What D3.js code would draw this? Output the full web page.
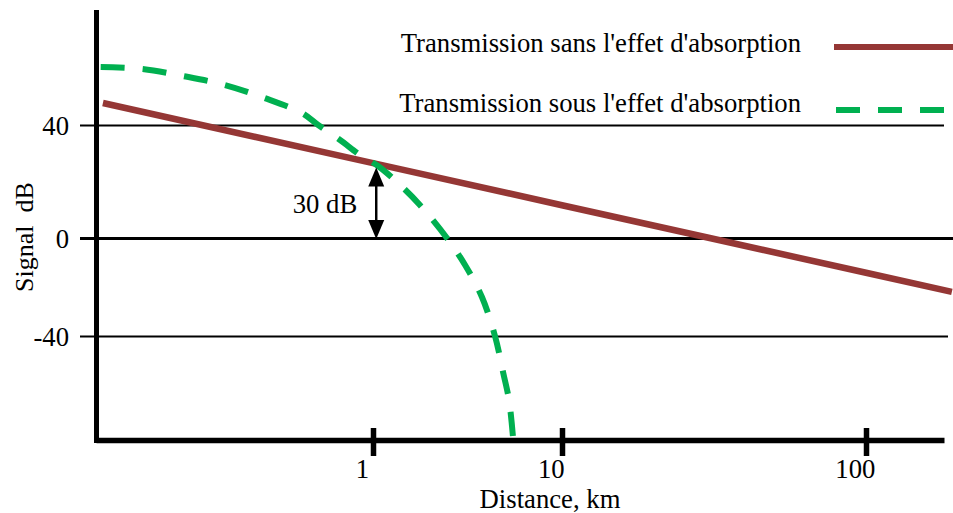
<!DOCTYPE html>
<html>
<head>
<meta charset="utf-8">
<script src="https://cdn.jsdelivr.net/npm/d3@7"></script>
<style>
  html, body { margin: 0; padding: 0; background: #fff; }
  svg { display: block; }
  text { font-family: "Liberation Serif", "Times New Roman", serif; fill: #000; }
</style>
</head>
<body>
<svg id="chart" width="953" height="513"></svg>
<script>
// ---- data ----
const distanceTicks = [1, 10, 100];
const signalTicks = [40, 0, -40];

const seriesNames = ["Transmission sans l'effet d'absorption", "Transmission sous l'effet d'absorption"];

const sansDistance = [0.037, 1, 10, 30.6, 100, 191];
const sansSignal   = [47.8, 26.5, 11.6, 0, -14.2, -22.0];

const sousDistance = [0.036, 0.060, 0.099, 0.163, 0.265, 0.421, 0.512, 0.669, 0.853, 1.063, 1.39, 1.77, 2.46, 3.07, 3.77, 4.42, 4.88, 5.25, 5.51];
const sousSignal   = [60.5, 59.8, 57.3, 54.2, 49.6, 44.2, 40.0, 34.7, 29.4, 25.5, 18.8, 11.7, 0, -11.0, -24.1, -40.0, -54.7, -66.1, -81.2];

const annotDistance = 1.04;
const annotFrom = 0, annotTo = 25;
const annotLabel = "30 dB";

// ---- scales (schematic, piecewise) ----
const svg = d3.select("#chart");
const x = d3.scaleLog()
  .domain([0.034, 1, 10, 100, 180])
  .range([96, 373, 562, 866, 944]);
const y = d3.scaleLinear()
  .domain([-82, -40, 0, 40, 80])
  .range([440, 336, 238, 125, 12]);

const red = "#953735", green = "#00B050";
const FS = 26.7;

// ---- y axis with gridlines ----
const yAxisG = svg.append("g")
  .attr("transform", "translate(96,0)")
  .call(d3.axisLeft(y).tickValues(signalTicks).tickFormat(d => String(d)).tickSizeOuter(0).tickSizeInner(16));
yAxisG.attr("font-family", null).attr("font-size", null);
yAxisG.select(".domain").attr("stroke", "#000").attr("stroke-width", 5).attr("stroke-linecap", "square");
yAxisG.selectAll(".tick line")
  .attr("x1", -16)
  .attr("x2", d => d === 0 ? 953 - 96 : (d > 0 ? 944 - 96 : 948 - 96))
  .attr("stroke", "#000")
  .attr("stroke-width", d => d === 0 ? 3 : 2.2);
yAxisG.selectAll(".tick text")
  .attr("x", -27).attr("dy", "0.34em")
  .style("font-size", FS + "px");

// ---- x axis ----
const xAxisG = svg.append("g")
  .attr("transform", "translate(0,440)")
  .call(d3.axisBottom(x).tickValues(distanceTicks).tickFormat(d => String(d)).tickSizeOuter(0).tickSizeInner(16));
xAxisG.attr("font-family", null).attr("font-size", null);
xAxisG.select(".domain").attr("stroke", "#000").attr("stroke-width", 5.5);
xAxisG.selectAll(".tick line")
  .attr("y1", -12).attr("y2", 16)
  .attr("stroke", "#000").attr("stroke-width", 5.5);
xAxisG.selectAll(".tick text")
  .attr("y", 38).attr("dy", null).attr("dx", "-0.42em")
  .style("font-size", FS + "px");

// axis titles
svg.append("text")
  .attr("x", 550).attr("y", 508)
  .attr("text-anchor", "middle")
  .style("font-size", FS + "px")
  .text("Distance, km");
svg.append("text")
  .attr("transform", "translate(33,237) rotate(-90)")
  .attr("text-anchor", "middle")
  .style("font-size", "26px")
  .style("white-space", "pre")
  .text("Signal  dB");

// ---- series ----
const sansData = sansDistance.map((d, i) => [d, sansSignal[i]]);
const sousData = sousDistance.map((d, i) => [d, sousSignal[i]]);

svg.append("path")
  .datum(sansData)
  .attr("fill", "none").attr("stroke", red).attr("stroke-width", 6.5)
  .attr("d", d3.line().x(d => x(d[0])).y(d => y(d[1])));

svg.append("path")
  .datum(sousData)
  .attr("fill", "none").attr("stroke", green).attr("stroke-width", 6)
  .attr("stroke-dasharray", "24,18")
  .attr("d", d3.line().curve(d3.curveCatmullRom.alpha(0.5)).x(d => x(d[0])).y(d => y(d[1])));

// ---- annotation arrow ----
const ax = x(annotDistance), yTop = y(annotTo), yBot = y(annotFrom);
svg.append("line")
  .attr("x1", ax).attr("x2", ax).attr("y1", yTop + 10).attr("y2", yBot - 10)
  .attr("stroke", "#000").attr("stroke-width", 2.5);
svg.append("path")
  .attr("d", `M${ax},${yTop} L${ax - 8},${yTop + 19} L${ax + 8},${yTop + 19} Z`)
  .attr("fill", "#000");
svg.append("path")
  .attr("d", `M${ax},${yBot + 1} L${ax - 8},${yBot - 18} L${ax + 8},${yBot - 18} Z`)
  .attr("fill", "#000");
svg.append("text")
  .attr("x", ax - 19).attr("y", 213)
  .attr("text-anchor", "end")
  .style("font-size", FS + "px")
  .text(annotLabel);

// ---- legend ----
const legend = svg.append("g");
legend.append("text").attr("x", 801).attr("y", 52).attr("text-anchor", "end")
  .style("font-size", FS + "px").text(seriesNames[0]);
legend.append("line").attr("x1", 834).attr("x2", 953).attr("y1", 47).attr("y2", 47)
  .attr("stroke", red).attr("stroke-width", 6);
legend.append("text").attr("x", 801).attr("y", 112).attr("text-anchor", "end")
  .style("font-size", FS + "px").text(seriesNames[1]);
legend.append("line").attr("x1", 836).attr("x2", 944).attr("y1", 110).attr("y2", 110)
  .attr("stroke", green).attr("stroke-width", 6).attr("stroke-dasharray", "24,18");
</script>
</body>
</html>
